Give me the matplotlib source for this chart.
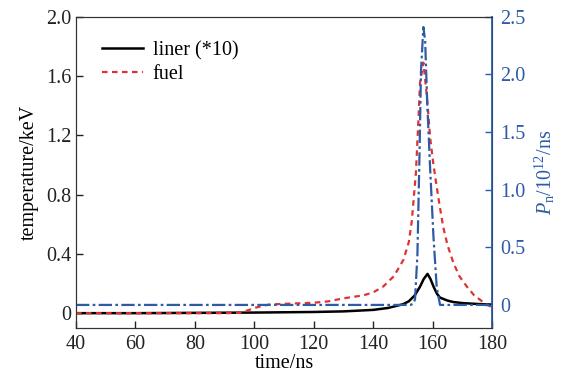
import matplotlib
matplotlib.use("Agg")
import matplotlib.pyplot as plt

plt.rcParams['font.family'] = ['Liberation Serif', 'DejaVu Serif']
plt.rcParams['mathtext.fontset'] = 'custom'
plt.rcParams['mathtext.rm'] = 'Liberation Serif'
plt.rcParams['mathtext.it'] = 'Liberation Serif:italic'

# liner temperature (*10), keV
t_liner = [40, 60, 80, 100, 120, 130, 140, 145, 150, 152, 154, 155.8, 157, 158.3,
           159.3, 160.3, 161.5, 162.5, 165, 167, 170, 175, 180]
T_liner = [0.0, 0.0, 0.002, 0.004, 0.008, 0.012, 0.022, 0.035, 0.06, 0.08, 0.12, 0.18,
           0.23, 0.265, 0.23, 0.18, 0.13, 0.105, 0.085, 0.075, 0.068, 0.062, 0.058]

# fuel temperature, keV
t_fuel = [40, 60, 80, 90, 95, 98, 100, 103, 105, 110, 120, 125, 130, 136.7, 140,
          143.4, 147, 150.2, 152, 153, 154.4, 155.2, 155.8, 156.9, 158, 159.2,
          160.3, 161.4, 162.5, 163.6, 165, 167, 169, 171.5, 174, 176, 178, 180]
T_fuel = [0.0, 0.0, 0.0, 0.0, 0.002, 0.02, 0.035, 0.05, 0.058, 0.063, 0.07, 0.08,
          0.1, 0.12, 0.14, 0.18, 0.25, 0.36, 0.48, 0.62, 0.95, 1.29, 1.56, 1.69,
          1.48, 1.18, 1.0, 0.85, 0.71, 0.58, 0.46, 0.34, 0.25, 0.18, 0.12, 0.09,
          0.06, 0.04]

# neutron yield rate, 10^12/ns
t_pn = [40, 100, 150, 152.5, 153.5, 154.1, 154.9, 155.6, 156.1, 156.9, 157.5,
        158.2, 159.2, 160.3, 161.4, 162.5, 170, 180]
Pn = [0.0, 0.0, 0.0, 0.0, 0.01, 0.05, 0.44, 1.31, 2.03, 2.41, 2.29, 1.75, 1.17,
      0.59, 0.15, 0.0, 0.0, 0.0]

blue = '#2D5BA5'
red = '#E03232'

fig = plt.figure(figsize=(5.69, 3.76), dpi=100)
ax = fig.add_axes([0.1336, 0.1277, 0.7311, 0.8279])
ax2 = ax.twinx()

l1, = ax.plot(t_liner, T_liner, color='black', lw=1.8, label='liner (*10)', zorder=3)
l2, = ax.plot(t_fuel, T_fuel, color=red, lw=1.6, ls=(0, (2.5, 2)), label='fuel', zorder=4)
ax2.plot(t_pn, Pn, color=blue, lw=1.6, ls=(0, (6, 1.5, 1.2, 1.5)))

ax.set_xlim(40, 180)
ax.set_ylim(-0.1, 2.0)
ax2.set_ylim(-0.2, 2.5)
ax.set_xticks(range(40, 181, 20))
ax.set_yticks([0, 0.4, 0.8, 1.2, 1.6, 2.0])
ax.set_yticklabels(['0', '0.4', '0.8', '1.2', '1.6', '2.0'])
ax2.set_yticks([0, 0.5, 1.0, 1.5, 2.0, 2.5])
ax2.set_yticklabels(['0', '0.5', '1.0', '1.5', '2.0', '2.5'])

fs = 14.5
ax.tick_params(direction='in', length=5, width=1, labelsize=fs, colors='#222222')
ax.tick_params(axis='x', pad=5)
ax2.tick_params(direction='in', length=5, width=1, labelsize=fs, colors=blue, pad=6)
ax.set_xlabel('time/ns', fontsize=fs, labelpad=0)
ax.set_ylabel('temperature/keV', fontsize=fs, labelpad=5)
ax2.set_ylabel(r'$P_{\rm n}$/10$^{12}$/ns', fontsize=fs, color=blue, labelpad=5)

for s in ['left', 'bottom', 'top']:
    ax.spines[s].set_color('#333333')
    ax2.spines[s].set_color('#333333')
ax2.spines['right'].set_color(blue)
ax2.spines['right'].set_linewidth(1.3)

ax.legend(handles=[l1, l2], loc='upper left', bbox_to_anchor=(0.02, 0.98),
          frameon=False, fontsize=fs, handlelength=2.0, handletextpad=0.5,
          labelspacing=0.25)

fig.savefig('out.png', dpi=100)
